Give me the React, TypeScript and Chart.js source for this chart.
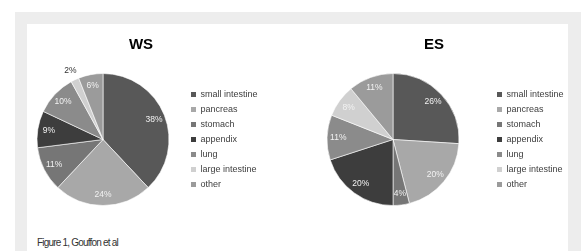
import { useEffect, useRef } from "react";
import { Chart, registerables } from "chart.js";

Chart.register(...registerables);

const categories = [
  "small intestine",
  "pancreas",
  "stomach",
  "appendix",
  "lung",
  "large intestine",
  "other",
];
const wsValues = [38, 24, 11, 9, 10, 2, 6];
const esValues = [26, 20, 4, 20, 11, 8, 11];
const sliceColors = ["#585858", "#a8a8a8", "#767676", "#3d3d3d", "#8b8b8b", "#d0d0d0", "#9b9b9b"];
const caption = "Figure 1, Gouffon et al";

const FONT = "Arial, 'Liberation Sans', sans-serif";

const pctLabels = {
  id: "pctLabels",
  afterDatasetsDraw(chart: any) {
    const ctx = chart.ctx;
    const meta = chart.getDatasetMeta(0);
    const data = chart.data.datasets[0].data as number[];
    ctx.save();
    ctx.font = `8.5px ${FONT}`;
    ctx.textAlign = "center";
    ctx.textBaseline = "middle";
    meta.data.forEach((arc: any, i: number) => {
      const p = arc.getProps(["x", "y", "startAngle", "endAngle", "outerRadius"], true);
      const mid = (p.startAngle + p.endAngle) / 2;
      const v = data[i];
      const outside = v < 3;
      const r = outside ? p.outerRadius * 1.16 : p.outerRadius * 0.83;
      ctx.fillStyle = outside ? "#333333" : "#f2f2f2";
      ctx.fillText(`${v}%`, p.x + Math.cos(mid) * r, p.y + Math.sin(mid) * r);
    });
    ctx.restore();
  },
};

type PieProps = {
  title: string;
  values: number[];
  left: number;
  top: number;
  width: number;
  height: number;
  legendWidth: number;
};

function PieChart({ title, values, left, top, width, height, legendWidth }: PieProps) {
  const ref = useRef<HTMLCanvasElement>(null);
  useEffect(() => {
    const ov: any = Chart.overrides as any;
    const baseGen =
      ov.pie?.plugins?.legend?.labels?.generateLabels ||
      ov.doughnut.plugins.legend.labels.generateLabels;
    const chart = new Chart(ref.current!, {
      type: "pie",
      data: {
        labels: categories,
        datasets: [
          {
            data: values,
            backgroundColor: sliceColors,
            borderColor: "rgba(255,255,255,0.6)",
            borderWidth: 1,
            radius: 66,
          } as any,
        ],
      },
      options: {
        responsive: false,
        animation: false,
        layout: { padding: 0 },
        plugins: {
          title: {
            display: true,
            text: title,
            color: "#000000",
            font: { size: 15, weight: "bold", family: FONT, lineHeight: 1.2 },
            padding: { top: 12, bottom: 10 },
          },
          legend: {
            position: "right",
            align: "center",
            fullSize: false,
            maxWidth: legendWidth,
            labels: {
              boxWidth: 5,
              boxHeight: 5,
              padding: 6,
              color: "#404040",
              font: { size: 9, family: FONT },
              generateLabels: (c: any) =>
                baseGen(c).map((l: any) => ({ ...l, lineWidth: 0, strokeStyle: "rgba(0,0,0,0)" })),
            },
          } as any,
          tooltip: { enabled: false },
        },
      },
      plugins: [pctLabels],
    });
    return () => chart.destroy();
  }, []);
  return (
    <canvas
      ref={ref}
      width={width}
      height={height}
      style={{ position: "absolute", left, top, width, height }}
    />
  );
}

export default function App() {
  return (
    <div
      style={{
        position: "absolute",
        left: 0,
        top: 0,
        width: 581,
        height: 251,
        overflow: "hidden",
        background: "#ffffff",
      }}
    >
      <div style={{ position: "absolute", left: 15, top: 12, width: 566, height: 260, background: "#ededed" }} />
      <div style={{ position: "absolute", left: 27, top: 24, width: 541, height: 240, background: "#ffffff" }} />
      <PieChart title="WS" values={wsValues} left={21} top={24} width={240} height={191} legendWidth={76} />
      <PieChart title="ES" values={esValues} left={295} top={24} width={278} height={191} legendWidth={82} />
      <div
        style={{
          position: "absolute",
          left: 37,
          top: 237,
          font: `10px ${FONT}`,
          lineHeight: "12px",
          letterSpacing: "-0.8px",
          color: "#333333",
          whiteSpace: "nowrap",
        }}
      >
        {caption}
      </div>
    </div>
  );
}
